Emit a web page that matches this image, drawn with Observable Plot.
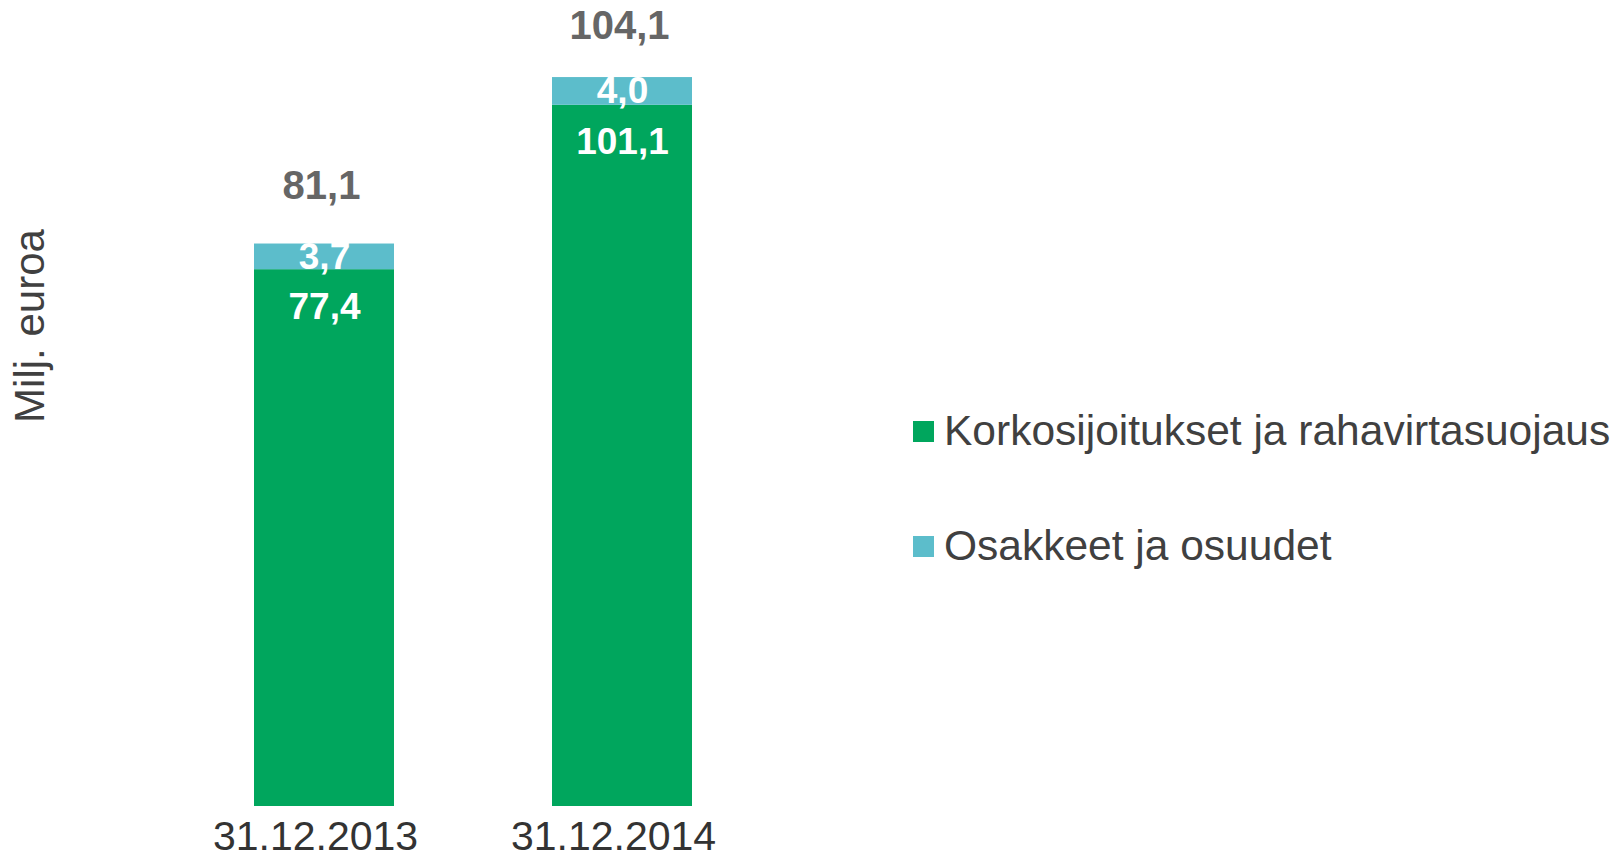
<!DOCTYPE html>
<html>
<head>
<meta charset="utf-8">
<script src="https://cdn.jsdelivr.net/npm/d3@7"></script>
<script src="https://cdn.jsdelivr.net/npm/@observablehq/plot@0.6"></script>
<style>
  html, body { margin: 0; padding: 0; background: #fff; }
  #wrap { position: relative; width: 1624px; height: 860px; font-family: "Liberation Sans", Arial, sans-serif; }
  #chart { position: absolute; left: 0; top: 0; }
  #ylabel { position: absolute; left: 30px; top: 326px; transform: translate(-50%, -50%) rotate(-90deg); font-size: 42px; color: #404040; white-space: nowrap; }
  #legend { position: absolute; left: 913px; top: 0; }
  .item { position: absolute; left: 0; display: flex; align-items: center; white-space: nowrap; font-size: 42.5px; color: #404040; transform: translateY(-50%); }
  .sw { width: 21px; height: 21px; margin-right: 10px; flex: none; }
</style>
</head>
<body>
<div id="wrap">
  <div id="chart"></div>
  <div id="ylabel">Milj. euroa</div>
  <div id="legend"></div>
</div>
<script>
const categories = ["31.12.2013", "31.12.2014"];
const seriesNames = ["Korkosijoitukset ja rahavirtasuojaus", "Osakkeet ja osuudet"];
const korkoValues = [77.4, 101.1];
const osakeValues = [3.7, 4.0];
const totalValues = [81.1, 104.1];
const seriesColors = ["#00A65D", "#5CBDCB"];
const legendRows = [431, 546];

const fmt = v => v.toFixed(1).replace(".", ",");

const rows = [];
categories.forEach((c, i) => {
  rows.push({date: c, series: seriesNames[0], value: korkoValues[i], base: 0});
  rows.push({date: c, series: seriesNames[1], value: osakeValues[i], base: korkoValues[i]});
});
const totals = categories.map((c, i) => ({date: c, total: totalValues[i]}));

const chart = Plot.plot({
  width: 880,
  height: 860,
  marginTop: 84,
  marginBottom: 54,
  marginLeft: 96,
  marginRight: 30,
  style: {fontFamily: "'Liberation Sans', Arial, sans-serif", background: "transparent"},
  x: {domain: categories, padding: 0.53, label: null},
  y: {domain: [0, 104.1], axis: null},
  color: {domain: seriesNames, range: seriesColors},
  marks: [
    Plot.barY(rows, {x: "date", y: "value", fill: "series"}),
    Plot.axisX({tickSize: 0, tickPadding: 14, dx: -9, fontSize: 41, color: "#333", label: null}),
    Plot.text(rows.filter(d => d.series === seriesNames[1]), {
      x: "date", y: d => d.base + d.value / 2, text: d => fmt(d.value),
      fill: "white", fontSize: 37, fontWeight: "bold", lineAnchor: "middle"
    }),
    Plot.text(rows.filter(d => d.series === seriesNames[0]), {
      x: "date", y: "value", text: d => fmt(d.value), dy: 37,
      fill: "white", fontSize: 37, fontWeight: "bold", lineAnchor: "middle"
    }),
    Plot.text(totals, {
      x: "date", y: "total", text: d => fmt(d.total), dy: -58, dx: -3,
      fill: "#666", fontSize: 40, fontWeight: "bold", lineAnchor: "middle"
    })
  ]
});
document.getElementById("chart").appendChild(chart);

const legend = document.getElementById("legend");
seriesNames.forEach((name, i) => {
  const item = document.createElement("div");
  item.className = "item";
  item.style.top = legendRows[i] + "px";
  const sw = document.createElement("span");
  sw.className = "sw";
  sw.style.background = seriesColors[i];
  const t = document.createElement("span");
  t.textContent = name;
  item.appendChild(sw);
  item.appendChild(t);
  legend.appendChild(item);
});
</script>
</body>
</html>
